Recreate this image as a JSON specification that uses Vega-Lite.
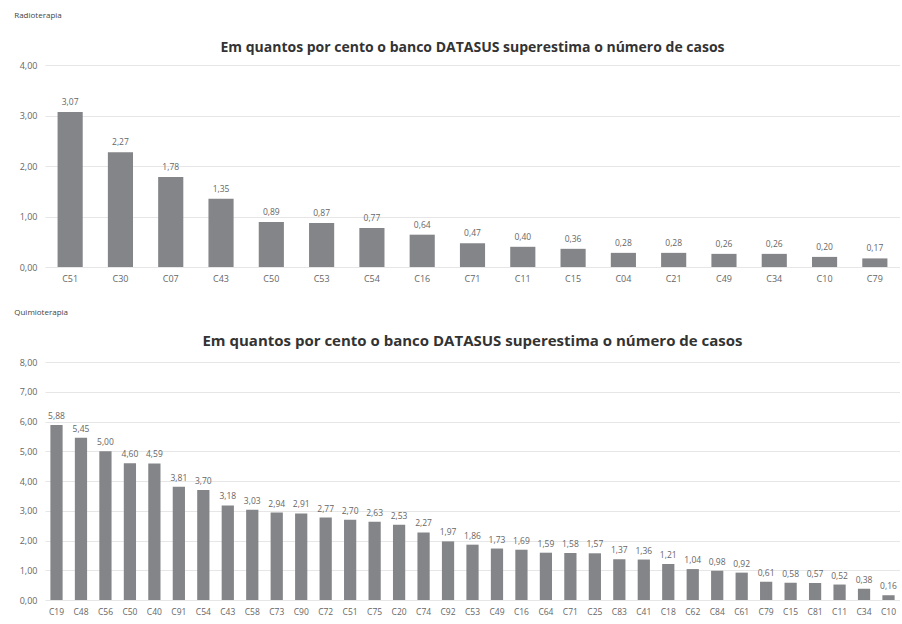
{
  "$schema": "https://vega.github.io/schema/vega-lite/v6.json",
  "padding": {"left": 14, "top": 12, "right": 0, "bottom": 2},
  "config": {
    "locale": {"number": {"decimal": ",", "thousands": ".", "grouping": [3], "currency": ["R$", ""]}},
    "font": "Open Sans",
    "view": {"stroke": null},
    "axis": {"labelColor": "#666666", "labelFont": "Open Sans", "labelFontSize": 9, "domain": false, "ticks": false, "title": null},
    "concat": {"spacing": 26}
  },
  "datasets": {
    "radio": [
      {"cid": "C51", "pct": 3.07}, {"cid": "C30", "pct": 2.27}, {"cid": "C07", "pct": 1.78}, {"cid": "C43", "pct": 1.35},
      {"cid": "C50", "pct": 0.89}, {"cid": "C53", "pct": 0.87}, {"cid": "C54", "pct": 0.77}, {"cid": "C16", "pct": 0.64},
      {"cid": "C71", "pct": 0.47}, {"cid": "C11", "pct": 0.40}, {"cid": "C15", "pct": 0.36}, {"cid": "C04", "pct": 0.28},
      {"cid": "C21", "pct": 0.28}, {"cid": "C49", "pct": 0.26}, {"cid": "C34", "pct": 0.26}, {"cid": "C10", "pct": 0.20},
      {"cid": "C79", "pct": 0.17}
    ],
    "quimio": [
      {"cid": "C19", "pct": 5.88}, {"cid": "C48", "pct": 5.45}, {"cid": "C56", "pct": 5.00}, {"cid": "C50", "pct": 4.60},
      {"cid": "C40", "pct": 4.59}, {"cid": "C91", "pct": 3.81}, {"cid": "C54", "pct": 3.70}, {"cid": "C43", "pct": 3.18},
      {"cid": "C58", "pct": 3.03}, {"cid": "C73", "pct": 2.94}, {"cid": "C90", "pct": 2.91}, {"cid": "C72", "pct": 2.77},
      {"cid": "C51", "pct": 2.70}, {"cid": "C75", "pct": 2.63}, {"cid": "C20", "pct": 2.53}, {"cid": "C74", "pct": 2.27},
      {"cid": "C92", "pct": 1.97}, {"cid": "C53", "pct": 1.86}, {"cid": "C49", "pct": 1.73}, {"cid": "C16", "pct": 1.69},
      {"cid": "C64", "pct": 1.59}, {"cid": "C71", "pct": 1.58}, {"cid": "C25", "pct": 1.57}, {"cid": "C83", "pct": 1.37},
      {"cid": "C41", "pct": 1.36}, {"cid": "C18", "pct": 1.21}, {"cid": "C62", "pct": 1.04}, {"cid": "C84", "pct": 0.98},
      {"cid": "C61", "pct": 0.92}, {"cid": "C79", "pct": 0.61}, {"cid": "C15", "pct": 0.58}, {"cid": "C81", "pct": 0.57},
      {"cid": "C11", "pct": 0.52}, {"cid": "C34", "pct": 0.38}, {"cid": "C10", "pct": 0.16}
    ]
  },
  "vconcat": [
    {
      "title": {"text": "Radioterapia", "anchor": "start", "fontSize": 8, "fontWeight": "normal", "color": "#444444", "font": "Open Sans", "offset": 21, "dx": -5},
      "vconcat": [
        {
          "title": {"text": "Em quantos por cento o banco DATASUS superestima  o número de casos", "fontSize": 14, "fontWeight": "bold", "color": "#333333", "font": "Open Sans", "offset": 6},
          "width": 855,
          "height": 202,
          "data": {"name": "radio"},
          "encoding": {
            "x": {"field": "cid", "type": "nominal", "sort": null, "scale": {"paddingInner": 0.5, "paddingOuter": 0.25}, "axis": {"labelAngle": 0, "labelPadding": 7, "labelFontSize": 9, "grid": false}},
            "y": {"field": "pct", "type": "quantitative", "scale": {"domain": [0, 4]}, "axis": {"values": [0, 1, 2, 3, 4], "format": ".2f", "gridColor": "#e6e6e6", "labelPadding": 8}}
          },
          "layer": [
            {"mark": {"type": "bar", "color": "#848589"}},
            {"mark": {"type": "text", "dy": -10, "fontSize": 8.5, "color": "#666666", "font": "Open Sans"}, "encoding": {"text": {"field": "pct", "type": "quantitative", "format": ".2f"}}}
          ]
        }
      ]
    },
    {
      "title": {"text": "Quimioterapia", "anchor": "start", "fontSize": 8, "fontWeight": "normal", "color": "#444444", "font": "Open Sans", "offset": 17, "dx": -5},
      "vconcat": [
        {
          "title": {"text": "Em quantos por cento o banco DATASUS superestima o número de casos", "fontSize": 15, "fontWeight": "bold", "color": "#333333", "font": "Open Sans", "offset": 9},
          "width": 855,
          "height": 238,
          "data": {"name": "quimio"},
          "encoding": {
            "x": {"field": "cid", "type": "nominal", "sort": null, "scale": {"paddingInner": 0.5, "paddingOuter": 0.22}, "axis": {"labelAngle": 0, "labelPadding": 7, "labelFontSize": 8.5, "grid": false}},
            "y": {"field": "pct", "type": "quantitative", "scale": {"domain": [0, 8]}, "axis": {"values": [0, 1, 2, 3, 4, 5, 6, 7, 8], "format": ".2f", "gridColor": "#e6e6e6", "labelPadding": 8}}
          },
          "layer": [
            {"mark": {"type": "bar", "color": "#848589"}},
            {"mark": {"type": "text", "dy": -9, "fontSize": 8.5, "color": "#666666", "font": "Open Sans"}, "encoding": {"text": {"field": "pct", "type": "quantitative", "format": ".2f"}}}
          ]
        }
      ]
    }
  ]
}
